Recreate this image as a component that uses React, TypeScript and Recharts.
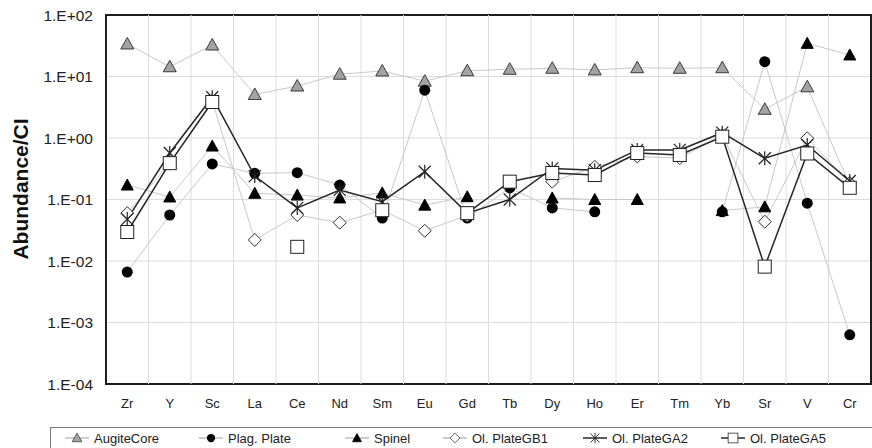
import React from 'react';
import { LineChart, Line, XAxis, YAxis, CartesianGrid, ReferenceLine, ReferenceArea } from 'recharts';

const elements = ["Zr", "Y", "Sc", "La", "Ce", "Nd", "Sm", "Eu", "Gd", "Tb", "Dy", "Ho", "Er", "Tm", "Yb", "Sr", "V", "Cr"];

const augiteCore = [33.8, 14.4, 32.5, 5.1, 7.0, 10.9, 12.3, 8.4, 12.4, 13.1, 13.6, 12.8, 13.9, 13.6, 13.9, 2.93, 6.8, 0.17];
const plagPlate = [0.0066, 0.056, 0.378, 0.267, 0.273, 0.172, 0.050, 6.0, 0.050, 0.154, 0.073, 0.063, null, null, 0.063, 17.4, 0.087, 0.00063];
const spinel = [0.172, 0.11, 0.74, 0.126, 0.118, 0.106, 0.128, 0.081, 0.111, null, 0.106, 0.1, 0.1, null, 0.066, 0.076, 34.6, 22.4];
const olPlateGB1 = [0.06, 0.39, 4.0, 0.022, 0.056, 0.042, 0.067, 0.031, 0.055, null, 0.195, 0.34, 0.5, 0.47, 1.1, 0.0436, 0.99, 0.186];
const olPlateGA2 = [0.048, 0.57, 4.6, 0.24, 0.073, 0.143, 0.092, 0.283, 0.06, 0.1, 0.32, 0.3, 0.64, 0.64, 1.22, 0.468, 0.77, 0.2];
const olPlateGA5 = [0.0296, 0.39, 3.85, null, 0.017, null, 0.067, null, 0.06, 0.195, 0.27, 0.25, 0.57, 0.53, 1.05, 0.0081, 0.56, 0.155];

const yTicks = [0.0001, 0.001, 0.01, 0.1, 1, 10, 100];
const yTickLabels = ["1.E-04", "1.E-03", "1.E-02", "1.E-01", "1.E+00", "1.E+01", "1.E+02"];

const seriesNames = ["AugiteCore", "Plag. Plate", "Spinel", "Ol. PlateGB1", "Ol. PlateGA2", "Ol. PlateGA5"];
const seriesKeys = ["aug", "plag", "spinel", "gb1", "ga2", "ga5"];
const seriesMarkers = ["triGray", "circle", "triBlack", "diamond", "star", "square"];
const seriesStroke = ["#c8c8c8", "#c8c8c8", "#c8c8c8", "#c8c8c8", "#262626", "#262626"];
const seriesWidth = [1, 1, 1, 1, 1.5, 1.5];

const data = elements.map((el, i) => ({
  idx: i,
  el,
  aug: augiteCore[i],
  plag: plagPlate[i],
  spinel: spinel[i],
  gb1: olPlateGB1[i],
  ga2: olPlateGA2[i],
  ga5: olPlateGA5[i],
}));

const FONT = '"Liberation Sans", Arial, sans-serif';

function Marker({ kind, cx, cy }: { kind: string; cx: number; cy: number }) {
  switch (kind) {
    case 'triGray':
      return (
        <polygon
          points={`${cx},${cy - 6.5} ${cx - 6.5},${cy + 5} ${cx + 6.5},${cy + 5}`}
          fill="#a3a3a3"
          stroke="#3a3a3a"
          strokeWidth={1}
        />
      );
    case 'triBlack':
      return (
        <polygon
          points={`${cx},${cy - 6} ${cx - 6},${cy + 5} ${cx + 6},${cy + 5}`}
          fill="#000"
          stroke="#000"
          strokeWidth={1}
        />
      );
    case 'circle':
      return <circle cx={cx} cy={cy} r={5.5} fill="#000" />;
    case 'diamond':
      return (
        <polygon
          points={`${cx},${cy - 6.5} ${cx + 6.5},${cy} ${cx},${cy + 6.5} ${cx - 6.5},${cy}`}
          fill="#fff"
          stroke="#303030"
          strokeWidth={1}
        />
      );
    case 'star':
      return (
        <g stroke="#222" strokeWidth={1.2}>
          <line x1={cx} y1={cy - 7} x2={cx} y2={cy + 7} />
          <line x1={cx - 6} y1={cy - 6} x2={cx + 6} y2={cy + 6} />
          <line x1={cx - 6} y1={cy + 6} x2={cx + 6} y2={cy - 6} />
        </g>
      );
    case 'square':
      return <rect x={cx - 6.5} y={cy - 6.5} width={13} height={13} fill="#fff" stroke="#222" strokeWidth={1} />;
    default:
      return null;
  }
}

const makeDot = (kind: string, key: string) => (props: any) => {
  const { cx, cy, value, index } = props;
  if (value == null || cx == null || cy == null || isNaN(cx) || isNaN(cy)) {
    return <g key={`${key}-${index}`} />;
  }
  return (
    <g key={`${key}-${index}`}>
      <Marker kind={kind} cx={cx} cy={cy} />
    </g>
  );
};

const legendX = [62, 196, 342, 440, 580, 718];

function LegendBox() {
  return (
    <div
      style={{
        position: 'absolute',
        left: 50,
        top: 427,
        width: 840,
        height: 40,
        border: '1.5px solid #7a7a7a',
        boxSizing: 'border-box',
        background: '#fff',
      }}
    >
      {seriesNames.map((name, i) => (
        <div
          key={name}
          style={{
            position: 'absolute',
            left: legendX[i] - 50,
            top: 2,
            display: 'flex',
            alignItems: 'center',
            fontFamily: FONT,
            fontSize: 13,
            color: '#222',
            whiteSpace: 'nowrap',
          }}
        >
          <svg width={28} height={16} style={{ display: 'block' }}>
            <line x1={2} y1={8} x2={26} y2={8} stroke={i >= 4 ? '#262626' : '#9a9a9a'} strokeWidth={i >= 4 ? 1.5 : 1} />
            <g transform="translate(14,8) scale(0.75) translate(-14,-8)">
              <Marker kind={seriesMarkers[i]} cx={14} cy={8} />
            </g>
          </svg>
          <span style={{ marginLeft: 3 }}>{name}</span>
        </div>
      ))}
    </div>
  );
}

export default function App() {
  return (
    <div
      style={{
        position: 'absolute',
        left: 0,
        top: 0,
        width: 872,
        height: 448,
        overflow: 'hidden',
        background: '#fff',
      }}
    >
      <LineChart width={872} height={448} data={data} margin={{ top: 15, right: 1, bottom: 0, left: 0 }}>
        <CartesianGrid vertical={false} stroke="#dcdcdc" strokeWidth={1} />
        {elements.slice(0, -1).map((_, i) => (
          <ReferenceLine key={`v${i}`} x={i + 0.5} stroke="#dcdcdc" strokeWidth={1} />
        ))}
        <XAxis
          dataKey="idx"
          type="number"
          domain={[-0.5, 17.5]}
          ticks={elements.map((_, i) => i)}
          tickFormatter={(v: number) => elements[v]}
          interval={0}
          height={64}
          tickLine={false}
          axisLine={false}
          tickSize={0}
          tickMargin={15}
          tick={{ fontSize: 13, fill: '#222', fontFamily: FONT }}
        />
        <YAxis
          scale="log"
          domain={[0.0001, 100]}
          ticks={yTicks}
          allowDataOverflow
          tickFormatter={(v: number) => yTickLabels[yTicks.indexOf(v)] ?? ''}
          width={106}
          tickLine={false}
          axisLine={false}
          tickSize={0}
          tickMargin={13}
          tick={{ fontSize: 15.5, fill: '#222', fontFamily: FONT }}
          label={() => (
            <text
              x={20}
              y={189}
              transform="rotate(-90 20 189)"
              textAnchor="middle"
              dominantBaseline="central"
              fontFamily={FONT}
              fontWeight="bold"
              fontSize={21}
              fill="#111"
            >
              Abundance/CI
            </text>
          )}
        />
        {seriesKeys.map((k, i) => (
          <Line
            key={k}
            dataKey={k}
            name={seriesNames[i]}
            type="linear"
            stroke={seriesStroke[i]}
            strokeWidth={seriesWidth[i]}
            dot={makeDot(seriesMarkers[i], k)}
            activeDot={false}
            connectNulls={false}
            isAnimationActive={false}
          />
        ))}
        <ReferenceArea
          x1={-0.5}
          x2={17.5}
          y1={0.0001}
          y2={100}
          fill="none"
          fillOpacity={0}
          stroke="#1e1e1e"
          strokeWidth={2}
          ifOverflow="visible"
        />
      </LineChart>
      <LegendBox />
    </div>
  );
}
